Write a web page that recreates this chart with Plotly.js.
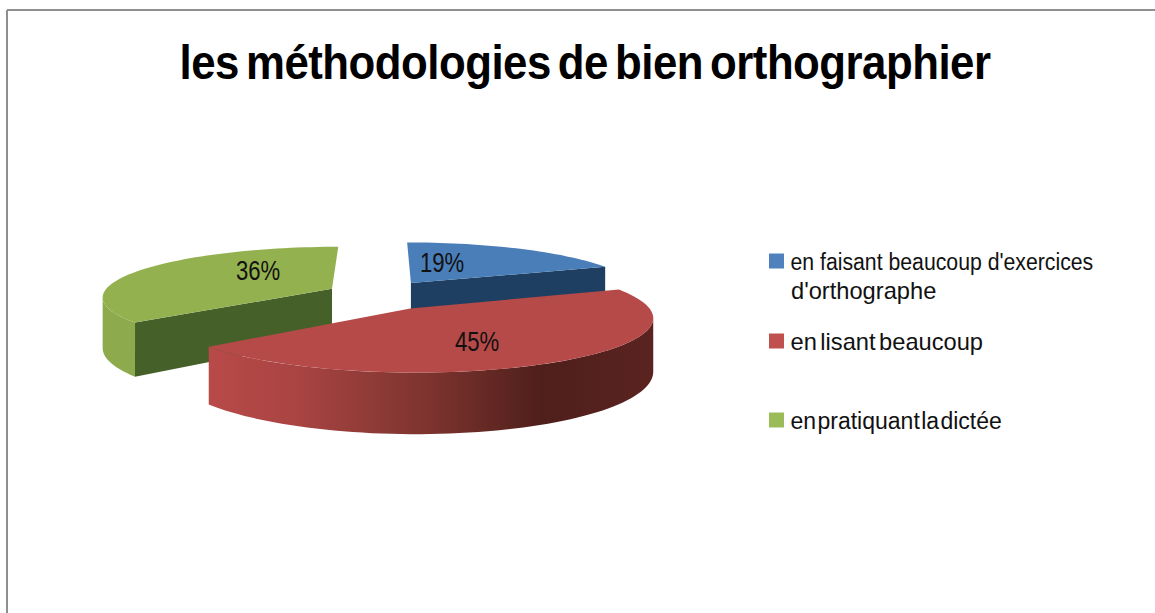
<!DOCTYPE html>
<html>
<head>
<meta charset="utf-8">
<script src="https://cdn.plot.ly/plotly-3.0.1.min.js"></script>
<style>
html,body{margin:0;padding:0;background:#fff;}
#chart{width:1155px;height:613px;}
.gtitle{word-spacing:-5px;letter-spacing:-0.55px;transform-box:fill-box;transform-origin:center;transform:scaleX(.912);}
.legendtext,.legend2text,.legend3text{transform-box:fill-box;transform-origin:left center;}
.legendtext{transform:translateX(-6px) scaleX(.924);}
.legend2text{word-spacing:-3px;transform:translateX(-6px) scaleX(1.03);}
.legend3text{word-spacing:-5px;transform:translateX(-6px);}
.annotation-text[data-unformatted$="%"]{transform-box:fill-box;transform-origin:center;transform:scaleX(.82);}
.annotation-text[data-unformatted^="d'"]{transform-box:fill-box;transform-origin:left center;transform:scaleX(1.03);}
</style>
</head>
<body>
<div id="chart"></div>
<script>
const chartTitle = "les méthodologies de bien orthographier";
const categories = ["en faisant beaucoup d'exercices", "en lisant beaucoup", "en pratiquant la dictée"];
const categoryWrap = "d'orthographe";
const shares = [19, 45, 36];
const swatchColors = ["#4f81bd", "#c0504d", "#9bbb59"];
const topColors = ["#4a7eb9", "#b54a48", "#94b14f"];
const cutColors = ["#1e3f62", null, "#46602a"];

// 3-D pie projection (tilted disc seen with perspective), in pixel axes
const view = {cx: 381, cy: 295, a: 230, b: 50, p: 0.15, depth: 50, ex: 0.24, ey: 0.30};
const labelSpots = [[442, 263], [477, 342], [258, 271]];

const rad = d => d * Math.PI / 180;
const total = shares.reduce((s, v) => s + v, 0);
let run = 0;
const slices = shares.map(v => {
  const start = run / total * 360;
  run += v;
  const end = run / total * 360;
  const mid = rad((start + end) / 2);
  return {start, end, u0: view.ex * Math.sin(mid), v0: view.ey * Math.cos(mid)};
});
function project(s, r, deg, low) {
  const u = s.u0 + r * Math.sin(rad(deg));
  const v = s.v0 + r * Math.cos(rad(deg));
  const w = 1 / (1 + view.p * v);
  return [view.cx + view.a * u * w, view.cy - view.b * v * w + (low ? view.depth * w : 0)];
}
function arc(s, from, to, low) {
  const pts = [], n = Math.max(2, Math.ceil(Math.abs(to - from) / 2));
  for (let i = 0; i <= n; i++) pts.push(project(s, 1, from + (to - from) * i / n, low));
  return pts;
}
// angle of the slice's rim that reaches furthest left (sign -1) or right (sign +1)
function extremeAngle(s, sign) {
  let best = s.start, bestX = -Infinity;
  for (let d = s.start; d <= s.end; d += 0.5) {
    const x = sign * project(s, 1, d, false)[0];
    if (x > bestX) { bestX = x; best = d; }
  }
  return best;
}
function poly(pts, extra) {
  const closed = pts.concat([pts[0]]);
  return Object.assign({
    x: closed.map(p => p[0]), y: closed.map(p => p[1]),
    type: "scatter", mode: "lines", fill: "toself", line: {width: 0, simplify: false},
    showlegend: false, hoverinfo: "skip"
  }, extra);
}
const topFace = s => [project(s, 0, 0, false)].concat(arc(s, s.start, s.end, false));
const cutFace = (s, deg) => [project(s, 0, 0, false), project(s, 1, deg, false), project(s, 1, deg, true), project(s, 0, 0, true)];
const outerWall = (s, from, to) => arc(s, from, to, false).concat(arc(s, to, from, true));

const [blue, red, green] = slices;
const traces = [
  poly(outerWall(green, green.start, extremeAngle(green, -1)), {fillcolor: "#8dab4c"}),
  poly(cutFace(green, green.start), {fillcolor: cutColors[2]}),
  poly(topFace(green), {fillcolor: topColors[2]}),
  poly(cutFace(blue, blue.end), {fillcolor: cutColors[0]}),
  poly(topFace(blue), {fillcolor: topColors[0]}),
  poly(outerWall(red, extremeAngle(red, 1), red.end), {
    fillcolor: "#8f3a38",
    fillgradient: {type: "horizontal", colorscale: [
      [0, "#b84a48"], [0.2, "#a84442"], [0.5, "#7c332e"], [0.75, "#4f1f1b"], [1, "#5a2320"]
    ]}
  }),
  poly(topFace(red), {fillcolor: topColors[1]})
];
["legend", "legend2", "legend3"].forEach((id, i) => {
  traces.push({
    x: [null], y: [null], type: "scatter", mode: "markers", name: categories[i],
    marker: {symbol: "square", size: 15, color: swatchColors[i]},
    legend: id, showlegend: true, hoverinfo: "skip"
  });
});

const legendFont = {family: "Liberation Sans", size: 23, color: "#111"};
const legendAt = yPx => ({
  x: (776.5 - 20) / 1155, xanchor: "left", y: 1 - yPx / 613, yanchor: "middle",
  bgcolor: "rgba(0,0,0,0)", borderwidth: 0, font: legendFont, itemclick: false, itemdoubleclick: false
});

const annotations = shares.map((v, i) => ({
  x: labelSpots[i][0], y: labelSpots[i][1], xref: "x", yref: "y",
  text: v + "%", showarrow: false, xanchor: "center", yanchor: "middle",
  font: {family: "Liberation Sans", size: 27, color: "#111"}
}));
annotations.push({
  x: 790 / 1155, y: 1 - 291 / 613, xref: "paper", yref: "paper", text: categoryWrap,
  showarrow: false, xanchor: "left", yanchor: "middle", borderpad: 0, font: legendFont
});

const frame = (x0, y0, x1, y1) => ({
  type: "line", xref: "paper", yref: "paper",
  x0: x0 / 1155, y0: 1 - y0 / 613, x1: x1 / 1155, y1: 1 - y1 / 613,
  line: {color: "#8f8f8f", width: 2}
});

Plotly.newPlot("chart", traces, {
  width: 1155, height: 613,
  margin: {l: 0, r: 0, t: 0, b: 0},
  paper_bgcolor: "#fff", plot_bgcolor: "#fff",
  title: {
    text: chartTitle, x: 585 / 1155, xanchor: "center", xref: "paper",
    y: 1 - 62 / 613, yref: "paper", yanchor: "middle",
    font: {family: "Liberation Sans", size: 48, color: "#000", weight: "bold"}
  },
  xaxis: {range: [0, 1155], visible: false, fixedrange: true},
  yaxis: {range: [613, 0], visible: false, fixedrange: true},
  legend: legendAt(261), legend2: legendAt(341), legend3: legendAt(420),
  annotations: annotations,
  shapes: [frame(7, 10, 1155, 10), frame(7, 10, 7, 613)],
  hovermode: false
}, {displayModeBar: false});
</script>
</body>
</html>
